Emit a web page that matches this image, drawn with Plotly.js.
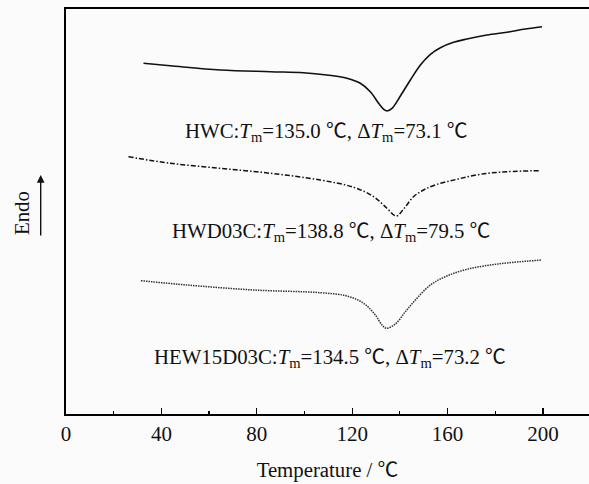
<!DOCTYPE html>
<html>
<head>
<meta charset="utf-8">
<script src="https://cdn.plot.ly/plotly-3.0.1.min.js"></script>
<style>html,body{margin:0;padding:0;background:#fbfbfb;}#chart{width:589px;height:484px;}</style>
</head>
<body>
<div id="chart"></div>
<script>
// Temperature (°C) and heat-flow signal (arbitrary units)
const hwcT   = [32.5, 43.7, 64.7, 85.7, 99.5, 109.4, 117.8, 123.4, 127.6, 131.1, 133.2, 134.6, 136.7, 140.2, 144.4, 148.6, 152.8, 157.0, 162.5, 168.1, 176.5, 184.9, 191.9, 199.6];
const hwcY   = [350.7, 348.3, 344.0, 342.3, 341.3, 339.0, 335.7, 330.7, 322.3, 310.7, 304.7, 303.0, 305.7, 318.0, 334.0, 349.0, 359.7, 366.3, 371.7, 375.0, 379.0, 381.7, 384.7, 387.3];
const hwdT   = [26.2, 43.7, 64.7, 85.7, 106.6, 120.6, 129.0, 134.6, 138.5, 141.9, 145.7, 149.9, 155.6, 163.9, 173.7, 184.9, 198.9];
const hwdY   = [257.3, 250.7, 245.7, 240.7, 234.0, 226.7, 217.3, 205.7, 198.0, 206.0, 217.3, 224.0, 229.7, 234.7, 239.7, 242.3, 243.3];
const hewT   = [31.4, 50.7, 78.7, 106.6, 117.8, 124.8, 129.7, 132.5, 134.3, 138.1, 142.3, 146.5, 152.8, 159.7, 168.1, 177.9, 187.7, 199.6];
const hewY   = [133.3, 129.0, 124.0, 121.3, 118.0, 110.7, 99.0, 89.0, 85.7, 90.0, 102.3, 114.0, 129.0, 138.0, 144.7, 149.0, 151.7, 154.0];
const xTicks = [0, 40, 80, 120, 160, 200];
const DEG = '<span style="font-family:\'Noto Sans CJK SC\'">℃</span>';
const labels = [
  'HWC:<i>T</i><sub>m</sub>=135.0 ' + DEG + ', Δ<i>T</i><sub>m</sub>=73.1 ' + DEG,
  'HWD03C:<i>T</i><sub>m</sub>=138.8 ' + DEG + ', Δ<i>T</i><sub>m</sub>=79.5 ' + DEG,
  'HEW15D03C:<i>T</i><sub>m</sub>=134.5 ' + DEG + ', Δ<i>T</i><sub>m</sub>=73.2 ' + DEG
];

const font = {family: '"Liberation Serif", "Times New Roman", serif', size: 20.8, color: '#111'};

const traces = [
  {x: hwcT, y: hwcY, mode: 'lines', line: {color: '#111', width: 1.6, shape: 'spline'}},
  {x: hwdT, y: hwdY, mode: 'lines', line: {color: '#111', width: 1.5, shape: 'spline', dash: '5px,2px,1.5px,2px'}},
  {x: hewT, y: hewY, mode: 'lines', line: {color: '#333', width: 1.5, shape: 'spline', dash: '1.5px,1px'}}
];

const layout = {
  width: 589, height: 484,
  margin: {l: 66, r: 0, t: 9, b: 70},
  paper_bgcolor: '#fbfbfb', plot_bgcolor: '#fbfbfb',
  showlegend: false,
  font: font,
  xaxis: {
    range: [0, 219.3], showgrid: false, zeroline: false,
    showline: true, linecolor: '#000', linewidth: 2, mirror: true,
    ticks: 'inside', ticklen: 6, tickwidth: 1.2, tickcolor: '#000',
    tickvals: xTicks, ticktext: xTicks.map(String),
    tickfont: {family: font.family, size: 21, color: '#111'},
    minor: {ticks: 'inside', ticklen: 3, tickwidth: 1.2, tickcolor: '#000', tickvals: [20, 60, 100, 140, 180]},
    title: {text: 'Temperature / ' + DEG, font: font, standoff: 17}
  },
  yaxis: {
    range: [0, 405], showgrid: false, zeroline: false,
    showline: true, linecolor: '#000', linewidth: 2.5, mirror: false,
    showticklabels: false, ticks: ''
  },
  annotations: [
    {text: labels[0], x: 326, y: 414 - 129, xref: 'x', yref: 'y', showarrow: false, font: font, xanchor: 'center', yanchor: 'middle'},
    {text: labels[1], x: 331, y: 414 - 229, xref: 'x', yref: 'y', showarrow: false, font: font, xanchor: 'center', yanchor: 'middle'},
    {text: labels[2], x: 330, y: 414 - 355, xref: 'x', yref: 'y', showarrow: false, font: font, xanchor: 'center', yanchor: 'middle'},
    {text: 'Endo', textangle: -90, x: (21 - 66) / 523, y: (414 - 213) / 405, xref: 'paper', yref: 'paper', showarrow: false, font: font, xanchor: 'center', yanchor: 'middle'},
    {text: '', x: (40.7 - 66) / 523, y: (414 - 175) / 405, xref: 'paper', yref: 'paper', showarrow: true, ax: 0, ay: 62, arrowhead: 2, arrowsize: 1.1, arrowwidth: 1.4, arrowcolor: '#111'}
  ]
};

// annotation x positions given in pixels above -> convert to data
layout.annotations.slice(0, 3).forEach(a => { a.x = (a.x - 65.7) / 2.385; });

Plotly.newPlot('chart', traces, layout, {displayModeBar: false, staticPlot: true});
</script>
</body>
</html>
